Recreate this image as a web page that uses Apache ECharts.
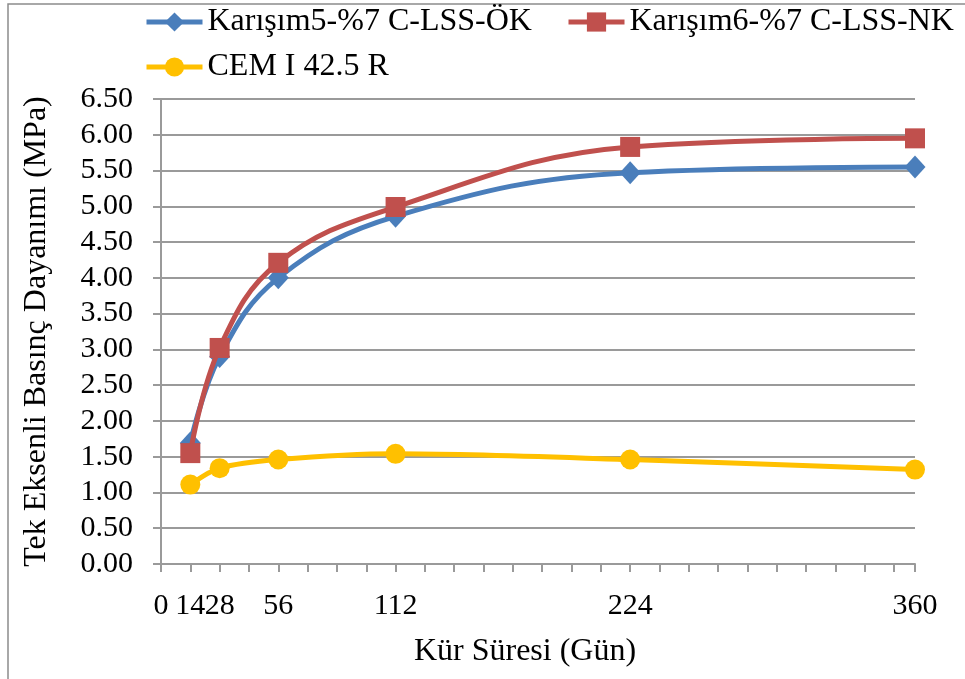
<!DOCTYPE html>
<html>
<head>
<meta charset="utf-8">
<script src="https://cdn.jsdelivr.net/npm/echarts@6/dist/echarts.min.js"></script>
<style>
  html, body { margin: 0; padding: 0; background: #fff; }
  #chart { width: 965px; height: 679px; }
</style>
</head>
<body>
<div id="chart"></div>
<script>
// Cure time (days) and uniaxial compressive strength (MPa)
const days = [14, 28, 56, 112, 224, 360];
const mix5 = [1.69, 2.90, 4.00, 4.86, 5.47, 5.55];   // Karışım5-%7 C-LSS-ÖK
const mix6 = [1.55, 3.02, 4.21, 4.99, 5.83, 5.95];   // Karışım6-%7 C-LSS-NK
const cem = [1.11, 1.34, 1.46, 1.54, 1.46, 1.32];    // CEM I 42.5 R
const xTickLabels = [0, 14, 28, 56, 112, 224, 360];
const seriesNames = ['Karışım5-%7 C-LSS-ÖK', 'Karışım6-%7 C-LSS-NK', 'CEM I 42.5 R'];

const FONT = '"Liberation Serif", "Times New Roman", serif';
const AXIS_GRAY = '#9a9a9a';

const pairs = ys => days.map((d, i) => [d, ys[i]]);

const chart = echarts.init(document.getElementById('chart'), null, { renderer: 'canvas' });

const legendBase = {
  itemWidth: 56,
  itemHeight: 24,
  itemGap: 4,
  lineStyle: { width: 5 },
  textStyle: { fontFamily: FONT, fontSize: 32, color: '#000' },
  padding: 0
};

chart.setOption({
  animation: false,
  backgroundColor: '#fff',
  graphic: [{
    type: 'rect',
    shape: { x: 8, y: 4, width: 1000, height: 720 },
    style: { fill: 'none', stroke: '#8c8c8c', lineWidth: 1.5 },
    silent: true,
    z: -10
  }],
  legend: [
    Object.assign({ data: [seriesNames[0]], left: 144, top: 6 }, legendBase),
    Object.assign({ data: [seriesNames[1]], left: 566, top: 6 }, legendBase),
    Object.assign({ data: [seriesNames[2]], left: 144, top: 51 }, legendBase)
  ],
  grid: { left: 161, top: 99, right: 50, bottom: 115 },
  xAxis: {
    type: 'value',
    min: 0,
    max: 360,
    interval: 14,
    name: 'Kür Süresi (Gün)',
    nameLocation: 'middle',
    nameGap: 72,
    nameTextStyle: { fontFamily: FONT, fontSize: 32, color: '#000', padding: [0, 26, 0, 0] },
    axisLine: { lineStyle: { color: AXIS_GRAY, width: 2 } },
    axisTick: { show: true, length: 8, lineStyle: { color: AXIS_GRAY, width: 2 } },
    splitLine: { show: false },
    axisLabel: {
      fontFamily: FONT, fontSize: 30, color: '#000', margin: 27,
      showMaxLabel: true, showMinLabel: true,
      formatter: v => (xTickLabels.indexOf(v) >= 0 ? String(v) : '')
    }
  },
  yAxis: {
    type: 'value',
    min: 0,
    max: 6.5,
    interval: 0.5,
    name: 'Tek Eksenli Basınç Dayanımı (MPa)',
    nameLocation: 'middle',
    nameGap: 108,
    nameTextStyle: { fontFamily: FONT, fontSize: 32, color: '#000' },
    axisLine: { show: true, lineStyle: { color: AXIS_GRAY, width: 2 } },
    axisTick: { show: true, length: 8, lineStyle: { color: AXIS_GRAY, width: 2 } },
    splitLine: { show: true, lineStyle: { color: AXIS_GRAY, width: 2 } },
    axisLabel: {
      fontFamily: FONT, fontSize: 30, color: '#000', margin: 28,
      formatter: v => v.toFixed(2)
    }
  },
  series: [
    {
      name: seriesNames[0], type: 'line', data: pairs(mix5),
      smooth: 0.4, symbol: 'diamond', symbolSize: [21, 23],
      lineStyle: { color: '#4a7ebb', width: 5 },
      itemStyle: { color: '#4a7ebb' }, z: 3
    },
    {
      name: seriesNames[1], type: 'line', data: pairs(mix6),
      smooth: 0.4, symbol: 'rect', symbolSize: 20,
      lineStyle: { color: '#c0504d', width: 5 },
      itemStyle: { color: '#c0504d' }, z: 4
    },
    {
      name: seriesNames[2], type: 'line', data: pairs(cem),
      smooth: 0.3, symbol: 'circle', symbolSize: 20,
      lineStyle: { color: '#ffc000', width: 5 },
      itemStyle: { color: '#ffc000' }, z: 2
    }
  ]
});
</script>
</body>
</html>
